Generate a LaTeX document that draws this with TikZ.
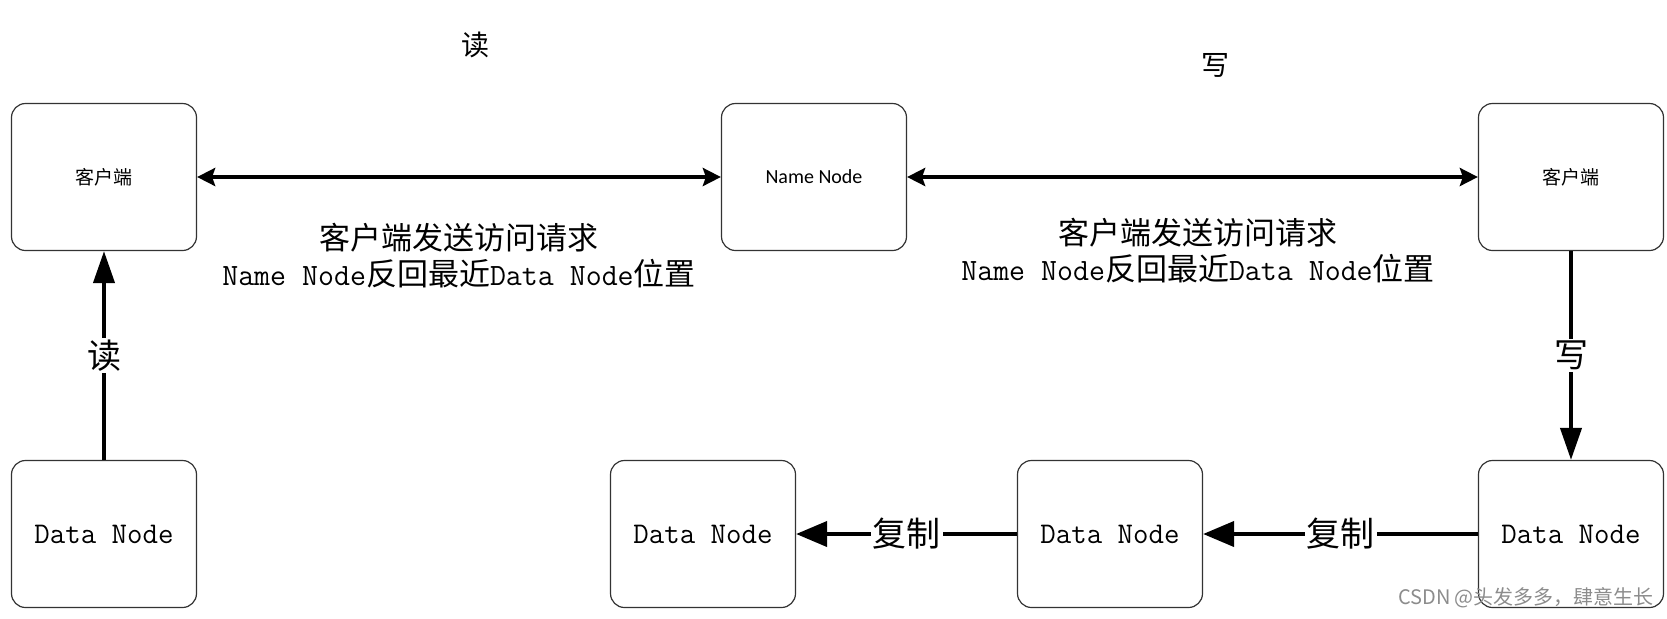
\documentclass[tikz,border=0pt]{standalone}
\usepackage{fontspec}
\newfontfamily\cjk{Noto Sans CJK SC}
\newfontfamily\calibri{Carlito}
\usetikzlibrary{arrows.meta, positioning}
\newcommand{\lat}[1]{{\ttfamily #1}}

\begin{document}
\begin{tikzpicture}[
	x=0.5pt, y=-0.5pt,
	MyBox/.style={rectangle, draw=black!80, line width=0.6pt, rounded corners=7pt,
		minimum width=92.5pt, minimum height=73.5pt, inner sep=0pt},
	BigText/.style={font=\cjk\fontsize{15.5}{18}\selectfont},
	DataText/.style={font=\ttfamily\fontsize{15}{18}\selectfont},
	ArrowLabel/.style={fill=white, inner sep=1pt, font=\cjk\fontsize{17}{20}\selectfont},
	TopArrow/.style={line width=2.4pt, {Stealth[length=9pt, width=9pt, inset=1.5pt]}-{Stealth[length=9pt, width=9pt, inset=1.5pt]}},
	VArrow/.style={line width=2pt, -{Triangle[length=16pt, width=10.5pt]}},
	HArrow/.style={line width=2pt, -{Triangle[length=15.5pt, width=12.5pt]}}
	]

\useasboundingbox (0,0) rectangle (1667,618);

% boxes
\node [MyBox, font=\cjk\fontsize{9.5}{11}\selectfont] (clientL) at (104,177) {客户端};
\node [MyBox, font=\calibri\fontsize{10}{12}\selectfont] (nameN) at (814,177) {Name Node};
\node [MyBox, font=\cjk\fontsize{9.5}{11}\selectfont] (clientR) at (1571,177) {客户端};
\node [MyBox, DataText] (dataA) at (104,534) {Data Node};
\node [MyBox, DataText] (dataB) at (703,534) {Data Node};
\node [MyBox, DataText] (dataC) at (1110,534) {Data Node};
\node [MyBox, DataText] (dataD) at (1571,534) {Data Node};

% titles and requests
\node [font=\cjk\fontsize{14}{16}\selectfont] (readTitle) at (475,45) {读};
\node [font=\cjk\fontsize{14}{16}\selectfont] (writeTitle) at (1215,65) {写};
\node [BigText, align=center] (reqL) at (459,256)
	{客户端发送访问请求\\ \lat{Name Node}反回最近\lat{Data Node}位置};
\node [BigText, align=center] (reqR) at (1198,251)
	{客户端发送访问请求\\ \lat{Name Node}反回最近\lat{Data Node}位置};

% connectors
\draw [TopArrow] (clientL) -- (nameN);
\draw [TopArrow] (nameN) -- (clientR);
\draw [VArrow] (dataA) -- node [ArrowLabel] {读} (clientL);
\draw [VArrow] (clientR) -- node [ArrowLabel] {写} (dataD);
\draw [HArrow] (dataD) -- node [ArrowLabel] {复制} (dataC);
\draw [HArrow] (dataC) -- node [ArrowLabel] {复制} (dataB);

% watermark
\node [text=black!45, font=\cjk\fontsize{10}{12}\selectfont] (mark) at (1526,598) {CSDN @头发多多，肆意生长};

\end{tikzpicture}
\end{document}
